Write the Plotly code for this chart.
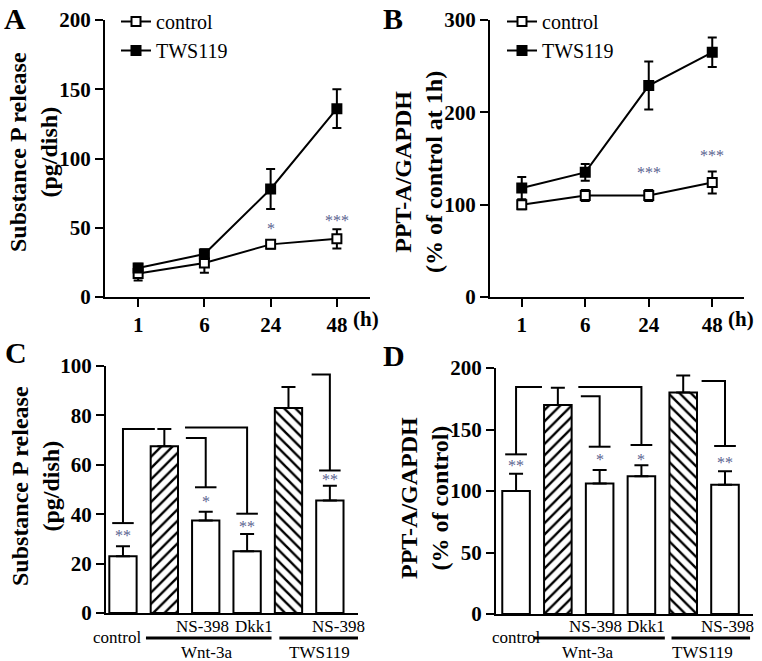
import plotly.graph_objects as go

W, H = 762, 661
FONT = "Liberation Serif, Times New Roman, serif"
STAR_COLOR = "#5a6190"

# ---------------- data ----------------
time_labels = ["1", "6", "24", "48"]
time_pos = [0, 1, 2, 3]

a_control = [17, 24.5, 38, 42]
a_control_err = [5, 7, 3, 7]
a_tws = [21, 31, 78, 136]
a_tws_err = [3, 3.5, 14.5, 14]
a_star_text = ["", "", "*", "***"]
a_star_y = [None, None, 51, 57]

b_control = [100, 110, 110, 124]
b_control_err = [5, 6, 6, 12]
b_tws = [118, 135, 229, 265]
b_tws_err = [12, 9, 26, 16]
b_star_text = ["", "", "***", "***"]
b_star_y = [None, None, 137, 155]

series_names = ["control", "TWS119"]

conditions = ["control", "Wnt-3a", "Wnt-3a + NS-398", "Wnt-3a + Dkk1", "TWS119", "TWS119 + NS-398"]
cond_pos = [0, 1, 2, 3, 4, 5]
cond_hatch = ["", "/", "", "", "\\", ""]

c_vals = [23, 67.5, 37.5, 25, 83, 45.5]
c_err = [4, 7, 3.5, 7, 8.5, 6]
c_star_text = ["**", "", "*", "**", "", "**"]
c_star_y = [32, None, 46, 36, None, 55]
c_br_bar = [0, 2, 3, 5]
c_br_end = [0.77, 1.52, 1.5, 4.56]
c_br_top = [74.5, 70.8, 75.1, 96.6]
c_br_bottom = [36.4, 50.9, 40.2, 57.7]

d_vals = [100, 170, 106, 112, 180, 105]
d_err = [14, 14, 11, 9, 14, 11]
d_star_text = ["**", "", "*", "*", "", "**"]
d_star_y = [122, None, 127, 127, None, 125]
d_br_bar = [0, 2, 3, 5]
d_br_end = [0.62, 1.55, 1.49, 4.44]
d_br_top = [184.6, 177.1, 184.6, 189.5]
d_br_bottom = [129.8, 136, 137.4, 136.6]

treat_labels = ["NS-398", "Dkk1", "NS-398"]
control_label = "control"
group_labels = ["Wnt-3a", "TWS119"]

# ---------------- helpers ----------------
def pxx(p):
    return p / W


def pxy(p):
    return 1 - p / H


fig = go.Figure()


def line_trace(x, y, err, name, filled, xa, ya, legend):
    return go.Scatter(
        x=x, y=y, name=name, mode="lines+markers",
        xaxis=xa, yaxis=ya, legend=legend,
        line=dict(color="black", width=2),
        marker=dict(symbol="square", size=9,
                    color="black" if filled else "white",
                    line=dict(color="black", width=2)),
        error_y=dict(type="data", array=err, color="black", thickness=2, width=4.5),
        cliponaxis=False, hoverinfo="skip",
    )


fig.add_trace(line_trace(time_pos, a_control, a_control_err, series_names[0], False, "x", "y", "legend"))
fig.add_trace(line_trace(time_pos, a_tws, a_tws_err, series_names[1], True, "x", "y", "legend"))
fig.add_trace(line_trace(time_pos, b_control, b_control_err, series_names[0], False, "x2", "y2", "legend2"))
fig.add_trace(line_trace(time_pos, b_tws, b_tws_err, series_names[1], True, "x2", "y2", "legend2"))


def bar_trace(vals, err, xa, ya):
    return go.Bar(
        x=cond_pos, y=vals, xaxis=xa, yaxis=ya, width=0.66,
        customdata=conditions, showlegend=False, hoverinfo="skip",
        marker=dict(color="white", line=dict(color="black", width=2),
                    pattern=dict(shape=cond_hatch, fgcolor="black", bgcolor="white",
                                 size=8, solidity=0.3)),
        error_y=dict(type="data", array=err, arrayminus=[0] * len(err), symmetric=False,
                     color="black", thickness=2, width=7),
    )


def bracket_trace(bars, ends, tops, bottoms, xa, ya):
    xs, ys = [], []
    for b, e, t, bt in zip(bars, ends, tops, bottoms):
        xs += [e, b, b, None, b - 0.26, b + 0.26, None]
        ys += [t, t, bt, None, bt, bt, None]
    return go.Scatter(x=xs, y=ys, mode="lines", xaxis=xa, yaxis=ya,
                      line=dict(color="black", width=2), showlegend=False,
                      hoverinfo="skip", cliponaxis=False)


fig.add_trace(bar_trace(c_vals, c_err, "x3", "y3"))
fig.add_trace(bracket_trace(c_br_bar, c_br_end, c_br_top, c_br_bottom, "x3", "y3"))
fig.add_trace(bar_trace(d_vals, d_err, "x4", "y4"))
fig.add_trace(bracket_trace(d_br_bar, d_br_end, d_br_top, d_br_bottom, "x4", "y4"))

# ---------------- axes ----------------
tickfont = dict(family=FONT, size=21, color="black", weight="bold")


def yax(domain, rng, dtick, anchor):
    return dict(domain=domain, range=rng, dtick=dtick, anchor=anchor, automargin=False,
                showline=True, linecolor="black", linewidth=2,
                ticks="outside", ticklen=8, tickwidth=2, tickcolor="black",
                showgrid=False, zeroline=False, tickfont=tickfont, fixedrange=True)


def xax_time(domain, rng, anchor):
    return dict(domain=domain, range=rng, anchor=anchor, automargin=False,
                tickmode="array", tickvals=time_pos, ticktext=time_labels,
                showline=True, linecolor="black", linewidth=2,
                ticks="outside", ticklen=8, tickwidth=2, tickcolor="black",
                showgrid=False, zeroline=False, tickfont=tickfont, fixedrange=True)


def xax_bar(domain, rng, anchor):
    return dict(domain=domain, range=rng, anchor=anchor, automargin=False,
                showline=True, linecolor="black", linewidth=2,
                ticks="", showticklabels=False,
                showgrid=False, zeroline=False, fixedrange=True)


top_dom = [pxy(297), pxy(20)]
c_dom = [pxy(613), pxy(366)]
d_dom = [pxy(614), pxy(368)]

annotations = []


def ann(x, y, text, size, bold=False, xref="paper", yref="paper", **kw):
    d = dict(x=x, y=y, xref=xref, yref=yref, text=text, showarrow=False,
             font=dict(family=FONT, size=size, color=kw.pop("color", "black"),
                       weight="bold" if bold else "normal"))
    d.update(kw)
    annotations.append(d)


# panel letters
for letter, (lx, ly) in zip(["A", "B", "C", "D"], [(15, 18), (393, 18), (16, 352), (394, 355)]):
    ann(pxx(lx), pxy(ly), letter, 30, bold=True, xanchor="center", yanchor="middle")

# y titles
for text, (tx, ty) in zip(
    ["Substance P release<br>(pg/dish)", "PPT-A/GAPDH<br>(% of control at 1h)",
     "Substance P release<br>(pg/dish)", "PPT-A/GAPDH<br>(% of control)"],
    [(33, 152), (418, 172), (35, 486), (424, 498)],
):
    ann(pxx(tx), pxy(ty), text, 24, bold=True, textangle=-90, xanchor="center", yanchor="middle")

# (h) units
ann(3, pxy(319), "(h)", 21, bold=True, xref="x", xanchor="left", yanchor="middle", xshift=14)
ann(3, pxy(319), "(h)", 21, bold=True, xref="x2", xanchor="left", yanchor="middle", xshift=14)

# significance stars
for xa, ya, texts, ys in [("x", "y", a_star_text, a_star_y), ("x2", "y2", b_star_text, b_star_y),
                          ("x3", "y3", c_star_text, c_star_y), ("x4", "y4", d_star_text, d_star_y)]:
    xs = time_pos if xa in ("x", "x2") else cond_pos
    for xv, t, yv in zip(xs, texts, ys):
        if t and yv is not None:
            ann(xv, yv, t, 16, xref=xa, yref=ya, xanchor="center", yanchor="middle",
                yshift=-2, color=STAR_COLOR)

# category labels for bar panels
shapes = []
panel_labels = {
    "x3": dict(treat=[1.93, 3.17, 5.22], ctrl=-0.15, groups=[2.02, 4.76], lines=[(0.556, 3.59), (3.78, 5.68)]),
    "x4": dict(treat=[1.9, 3.12, 5.05], ctrl=-0.01, groups=[1.72, 4.45], lines=[(0.42, 3.56), (3.72, 5.6)]),
}
for xa, p in panel_labels.items():
    for xv, t in zip(p["treat"], treat_labels):
        ann(xv, pxy(626), t, 17, xref=xa, xanchor="center", yanchor="middle")
    ann(p["ctrl"], pxy(637), control_label, 17, xref=xa, xanchor="center", yanchor="middle")
    for xv, t in zip(p["groups"], group_labels):
        ann(xv, pxy(652), t, 17, xref=xa, xanchor="center", yanchor="middle")
    for x0, x1 in p["lines"]:
        shapes.append(dict(type="line", xref=xa, yref="paper", x0=x0, x1=x1,
                           y0=pxy(638), y1=pxy(638), line=dict(color="black", width=3)))

legend_common = dict(xanchor="left", yanchor="top", bgcolor="rgba(0,0,0,0)",
                     font=dict(family=FONT, size=20, color="black"),
                     itemwidth=30, tracegroupgap=0, traceorder="normal")

fig.update_layout(
    template="none",
    width=W, height=H,
    margin=dict(l=0, r=0, t=0, b=0, pad=0, autoexpand=False),
    paper_bgcolor="white", plot_bgcolor="white",
    font=dict(family=FONT, color="black"),
    barmode="overlay",
    xaxis=xax_time([pxx(105), pxx(370)], [-0.5, 3.5], "y"),
    yaxis=yax(top_dom, [0, 200], 50, "x"),
    xaxis2=xax_time([pxx(490), pxx(744)], [-0.5, 3.5], "y2"),
    yaxis2=yax(top_dom, [0, 300], 100, "x2"),
    xaxis3=xax_bar([pxx(106), pxx(358)], [-0.41, 5.68], "y3"),
    yaxis3=yax(c_dom, [0, 100], 20, "x3"),
    xaxis4=xax_bar([pxx(496), pxx(753)], [-0.48, 5.67], "y4"),
    yaxis4=yax(d_dom, [0, 200], 50, "x4"),
    legend=dict(x=pxx(116), y=pxy(2), **legend_common),
    legend2=dict(x=pxx(502), y=pxy(2), **legend_common),
    annotations=annotations,
    shapes=shapes,
    showlegend=True,
)

fig.write_html(
    "out.html",
    config={"displayModeBar": False, "staticPlot": False},
    post_script="document.body.style.margin='0px';document.body.style.overflow='hidden';",
)
